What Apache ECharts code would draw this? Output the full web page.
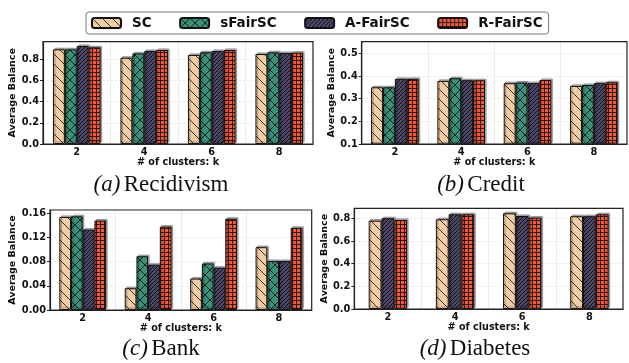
<!DOCTYPE html>
<html>
<head>
<meta charset="utf-8">
<script src="https://cdn.jsdelivr.net/npm/echarts@6/dist/echarts.min.js"></script>
<style>
html,body{margin:0;padding:0;background:#fff;}
#chart{width:629px;height:363px;}
</style>
</head>
<body>
<div id="chart"></div>
<script>
// ---- data ----
const categories = ['2', '4', '6', '8'];
const methods = ['SC', 'sFairSC', 'A-FairSC', 'R-FairSC'];

const recidivismSC      = [0.891, 0.812, 0.838, 0.847];
const recidivismSFair   = [0.891, 0.853, 0.863, 0.863];
const recidivismAFair   = [0.922, 0.875, 0.875, 0.856];
const recidivismRFair   = [0.910, 0.885, 0.885, 0.860];

const creditSC    = [0.350, 0.378, 0.368, 0.356];
const creditSFair = [0.350, 0.390, 0.371, 0.360];
const creditAFair = [0.387, 0.381, 0.368, 0.368];
const creditRFair = [0.387, 0.381, 0.382, 0.372];

const bankSC    = [0.154, 0.036, 0.052, 0.104];
const bankSFair = [0.155, 0.089, 0.077, 0.081];
const bankAFair = [0.133, 0.075, 0.070, 0.081];
const bankRFair = [0.148, 0.138, 0.151, 0.136];

const diabetesSC    = [0.779, 0.791, 0.844, 0.818];
const diabetesAFair = [0.800, 0.835, 0.820, 0.818];
const diabetesRFair = [0.785, 0.835, 0.806, 0.835];

const captions = [['(a)', 'Recidivism'], ['(b)', 'Credit'], ['(c)', 'Bank'], ['(d)', 'Diabetes']];

// ---- hatch patterns ----
function hatch(bg, type, size) {
  const c = document.createElement('canvas');
  c.width = size; c.height = size;
  const g = c.getContext('2d');
  g.fillStyle = bg; g.fillRect(0, 0, size, size);
  g.strokeStyle = 'rgba(0,0,0,0.85)';
  g.lineWidth = 0.9;
  g.beginPath();
  if (type === '\\' || type === 'x') {
    for (const o of [-size, 0, size]) { g.moveTo(o, 0); g.lineTo(o + size, size); }
  }
  if (type === '/' || type === 'x') {
    for (const o of [-size, 0, size]) { g.moveTo(o, size); g.lineTo(o + size, 0); }
  }
  if (type === '+') {
    g.moveTo(0, 0.5); g.lineTo(size, 0.5);
    g.moveTo(0.5, 0); g.lineTo(0.5, size);
  }
  g.stroke();
  return { image: c, repeat: 'repeat' };
}
const styles = {
  'SC': hatch('#F2CDA4', '\\', 10),
  'sFairSC': hatch('#3A9079', 'x', 10),
  'A-FairSC': hatch('#4E4868', '/', 4),
  'R-FairSC': hatch('#F25A3C', '+', 4)
};

const panels = [
  { grid: {left: 43, top: 41.7, width: 270, height: 102.3}, min: 0, max: 0.963, interval: 0.2, dec: 1, nameGap: 21.5, barWidth: 11.9,
    series: [['SC', recidivismSC], ['sFairSC', recidivismSFair], ['A-FairSC', recidivismAFair], ['R-FairSC', recidivismRFair]] },
  { grid: {left: 361.7, top: 41.7, width: 265.3, height: 102.3}, min: 0.1, max: 0.551, interval: 0.1, dec: 1, nameGap: 23, barWidth: 11.9,
    series: [['SC', creditSC], ['sFairSC', creditSFair], ['A-FairSC', creditAFair], ['R-FairSC', creditRFair]] },
  { grid: {left: 50, top: 210, width: 261.7, height: 100}, min: 0, max: 0.1655, interval: 0.04, dec: 2, nameGap: 29, barWidth: 11.7,
    series: [['SC', bankSC], ['sFairSC', bankSFair], ['A-FairSC', bankAFair], ['R-FairSC', bankRFair]] },
  { grid: {left: 354.3, top: 208.3, width: 268.7, height: 100.7}, min: 0, max: 0.888, interval: 0.2, dec: 1, nameGap: 21.8, barWidth: 12.8,
    series: [['SC', diabetesSC], ['A-FairSC', diabetesAFair], ['R-FairSC', diabetesRFair]] }
];
const captionPos = [[161, 196], [481, 196], [161, 360], [475, 360]];

const fontSans = 'DejaVu Sans';
const grids = [], xAxes = [], yAxes = [], series = [], graphics = [];
panels.forEach((p, i) => {
  grids.push(Object.assign({ show: false, containLabel: false }, p.grid));
  xAxes.push({
    type: 'category', gridIndex: i, data: categories,
    name: '# of clusters: k', nameLocation: 'middle', nameGap: 13,
    nameTextStyle: { fontFamily: fontSans, fontWeight: 'bold', fontSize: 9.6, color: '#111' },
    axisLine: { lineStyle: { color: '#222', width: 1.2 } },
    axisTick: { alignWithLabel: true, length: 3, lineStyle: { color: '#222' } },
    axisLabel: { fontFamily: fontSans, fontWeight: 'bold', fontSize: 9.8, color: '#111', margin: 3 },
    splitLine: { show: true, showMinLine: false, showMaxLine: false, lineStyle: { color: '#e6e6e6', width: 0.8 } }
  });
  yAxes.push({
    type: 'value', gridIndex: i, min: p.min, max: p.max, interval: p.interval,
    name: 'Average Balance', nameLocation: 'middle', nameGap: p.nameGap,
    nameTextStyle: { fontFamily: fontSans, fontWeight: 'bold', fontSize: 9.5, color: '#111' },
    axisLine: { show: true, lineStyle: { color: '#222', width: 1.2 } },
    axisTick: { show: true, length: 3, lineStyle: { color: '#222' } },
    axisLabel: { fontFamily: fontSans, fontWeight: 'bold', fontSize: 9.8, color: '#111', margin: 4,
      showMaxLabel: false, formatter: v => v.toFixed(p.dec) },
    splitLine: { show: true, showMinLine: false, showMaxLine: false, lineStyle: { color: '#e2e2e2', width: 0.8, type: [2, 2] } }
  });
  p.series.forEach(([name, data]) => {
    series.push({
      type: 'bar', name, data, xAxisIndex: i, yAxisIndex: i,
      barWidth: p.barWidth, barGap: '0%',
      itemStyle: { color: styles[name], borderColor: '#111', borderWidth: 1,
        shadowColor: 'rgba(0,0,0,0.35)', shadowBlur: 1, shadowOffsetX: 1.5, shadowOffsetY: -1.5 }
    });
  });
  // plot frame (top and right spines) drawn above the grid lines
  graphics.push({
    type: 'rect', z: 50, silent: true,
    shape: { x: p.grid.left, y: p.grid.top, width: p.grid.width, height: p.grid.height },
    style: { fill: 'none', stroke: '#222', lineWidth: 1.2 }
  });
});

captions.forEach((c, i) => graphics.push({
  type: 'text', x: captionPos[i][0], y: captionPos[i][1],
  style: {
    text: '{i|' + c[0] + '} {n|' + c[1] + '}',
    align: 'center', verticalAlign: 'bottom',
    rich: {
      i: { fontFamily: 'Liberation Serif', fontStyle: 'italic', fontSize: 23, fill: '#111' },
      n: { fontFamily: 'Liberation Serif', fontSize: 23, fill: '#111' }
    }
  }
}));

const chart = echarts.init(document.getElementById('chart'), null, { renderer: 'canvas' });
chart.setOption({
  animation: false,
  backgroundColor: '#fff',
  legend: {
    data: methods, left: 86, top: 12, orient: 'horizontal',
    padding: [4, 6, 4, 5], itemWidth: 29, itemHeight: 10, itemGap: 27.5,
    borderColor: '#777', borderWidth: 1, borderRadius: 3, backgroundColor: '#fff',
    textStyle: { fontFamily: fontSans, fontWeight: 'bold', fontSize: 13.5, color: '#111', padding: [0, 0, 0, 6] }
  },
  grid: grids, xAxis: xAxes, yAxis: yAxes, series, graphic: graphics
});
</script>
</body>
</html>
